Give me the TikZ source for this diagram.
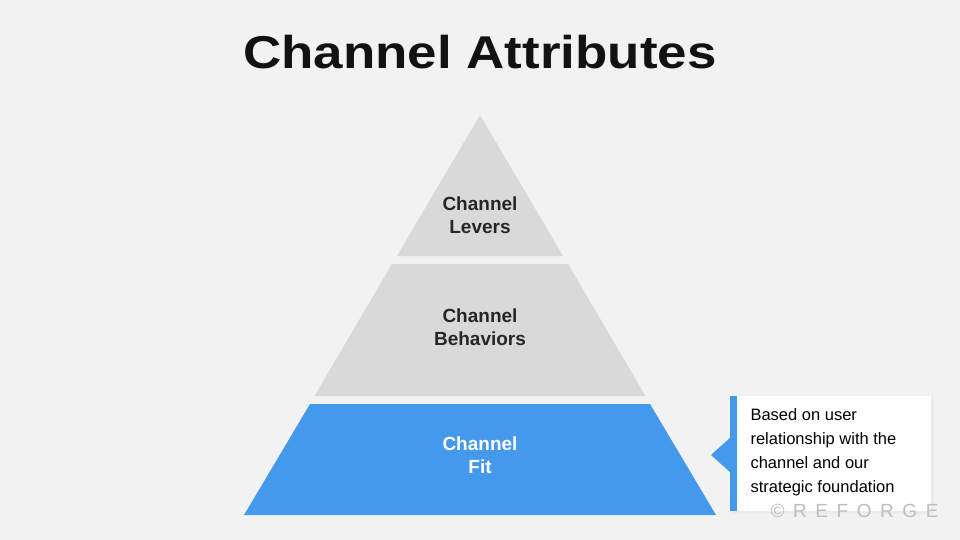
\documentclass[tikz,border=0pt]{standalone}
\usepackage{fontspec}
\setmainfont{Liberation Sans}
\newfontfamily\wmfont[LetterSpace=45]{Liberation Sans}
\definecolor{bggray}{HTML}{F2F2F2}
\definecolor{tiergray}{HTML}{D9D9D9}
\definecolor{fitblue}{HTML}{4599EC}
\definecolor{wmgray}{HTML}{BDBDBD}
\tikzset{
  tier label/.style={font=\bfseries\fontsize{19}{23}\selectfont, align=center, text=black!85},
  note text/.style={font=\fontsize{16.5}{24}\selectfont, align=left, anchor=north west}
}
\begin{document}
\begin{tikzpicture}[x=1pt,y=-1pt]
    \fill [bggray] (0,0) rectangle (960,540);
    \useasboundingbox (0,0) rectangle (960,540);
    % title
    \node (title) [font=\bfseries\fontsize{46}{50}\selectfont, xscale=1.15, text=black!93] at (480,52) {Channel Attributes};
    % pyramid tiers
    \fill [tiergray] (480,115) -- (563,256) -- (397,256) -- cycle;
    \fill [tiergray] (392,264) -- (568,264) -- (645.5,396) -- (314.5,396) -- cycle;
    \fill [fitblue] (310,404) -- (650,404) -- (716,515) -- (244,515) -- cycle;
    \node (levers) [tier label] at (480,215) {Channel\\Levers};
    \node (behaviors) [tier label] at (480,327) {Channel\\Behaviors};
    \node (fit) [tier label, text=white] at (480,455) {Channel\\Fit};
    % callout
    \fill [black!8] (732,398) rectangle (934,514);
    \fill [white] (730,396) rectangle (931,511);
    \fill [fitblue] (730,396) rectangle (737,511);
    \fill [fitblue] (711,455) -- (731,437) -- (731,473) -- cycle;
    \node (note) [note text] at (747,405) {Based on user\\relationship with the\\channel and our\\strategic foundation};
    % watermark
    \node (reforge) [font=\wmfont\fontsize{19}{22}\selectfont, text=wmgray, anchor=east] at (942,511) {©REFORGE};
\end{tikzpicture}
\end{document}
